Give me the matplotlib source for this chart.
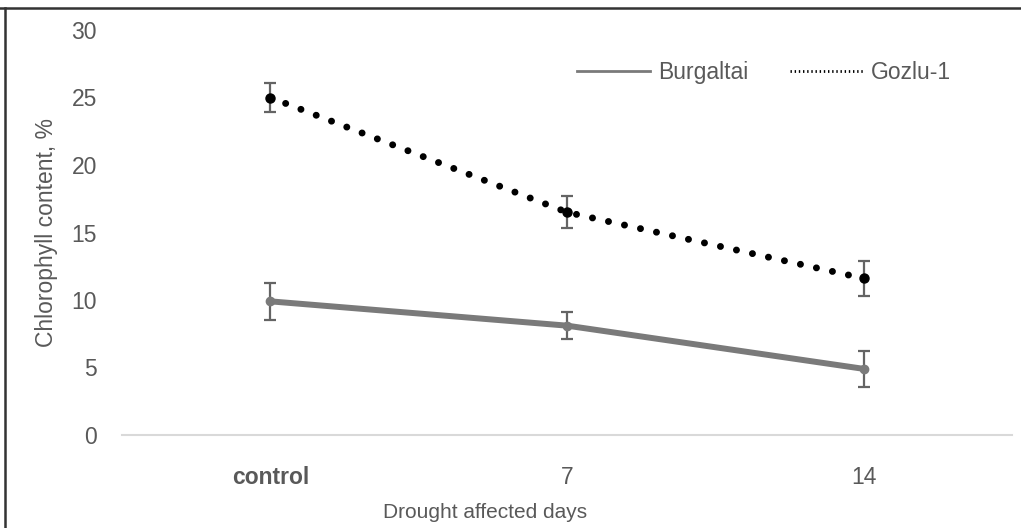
import matplotlib.pyplot as plt
from matplotlib.lines import Line2D

plt.rcParams['font.family'] = ['Liberation Sans', 'DejaVu Sans']

days = ['control', '7', '14']
burgaltai = [9.9, 8.1, 4.9]
burgaltai_err = [1.35, 1.0, 1.35]
gozlu = [25.0, 16.5, 11.6]
gozlu_err = [1.1, 1.2, 1.3]
yticks = [0, 5, 10, 15, 20, 25, 30]

txt = '#595959'
x = list(range(len(days)))

fig = plt.figure(figsize=(10.21, 5.28), dpi=100)
ax = fig.add_axes([122 / 1021, 93 / 528, 890 / 1021, 405 / 528])

# error bars first, lines on top
ax.errorbar(x, burgaltai, yerr=burgaltai_err, fmt='none', ecolor='#646464',
            elinewidth=1.6, capsize=4, capthick=1.6, zorder=2)
ax.errorbar(x, gozlu, yerr=gozlu_err, fmt='none', ecolor='#646464',
            elinewidth=1.6, capsize=4, capthick=1.6, zorder=2)

ax.plot(x, burgaltai, color='#7a7a7a', lw=4.3, solid_capstyle='round',
        marker='o', ms=6, zorder=3)
ax.plot(x, gozlu, color='black', lw=5.0, linestyle=(0, (0.01, 2.35)),
        dash_capstyle='round', zorder=3)
ax.plot(x, gozlu, 'o', color='black', ms=6.5, zorder=4)

ax.set_xlim(-0.5, 2.5)
ax.set_ylim(0, 30)
ax.set_yticks(yticks)
ax.set_xticks(x)
ax.set_xticklabels(days)
for i, lab in enumerate(ax.get_xticklabels()):
    lab.set_fontsize(17)
    if i == 0:
        lab.set_fontweight('bold')
ax.tick_params(axis='both', length=0, labelsize=16.5, labelcolor=txt)
ax.tick_params(axis='y', pad=18)
ax.tick_params(axis='x', pad=22)

for s in ['top', 'right', 'left']:
    ax.spines[s].set_visible(False)
ax.spines['bottom'].set_color('#d9d9d9')
ax.spines['bottom'].set_linewidth(1.5)

ax.set_xlabel('Drought affected days', fontsize=15, color=txt)
ax.xaxis.set_label_coords((485 - 122) / 890, -0.167)
ax.set_ylabel('Chlorophyll content, %', fontsize=16.5, color=txt, labelpad=10)

handles = [Line2D([], [], color='#7a7a7a', lw=2),
           Line2D([], [], color='black', lw=2, linestyle=(0, (0.5, 1.0)))]
ax.legend(handles, ['Burgaltai', 'Gozlu-1'], loc='upper right',
          bbox_to_anchor=(0.955, 0.975), ncol=2, frameon=False, fontsize=16.5,
          labelcolor=txt, handlelength=3.2, handletextpad=0.35,
          columnspacing=1.8)

# cropped frame: only top and left edges remain
fig.add_artist(Line2D([0, 1], [1 - 8 / 528, 1 - 8 / 528], color='#333333',
                      lw=1.8, transform=fig.transFigure))
fig.add_artist(Line2D([5 / 1021, 5 / 1021], [0, 1 - 8 / 528], color='#333333',
                      lw=1.8, transform=fig.transFigure))

fig.savefig('out.png', dpi=100, facecolor='white')
